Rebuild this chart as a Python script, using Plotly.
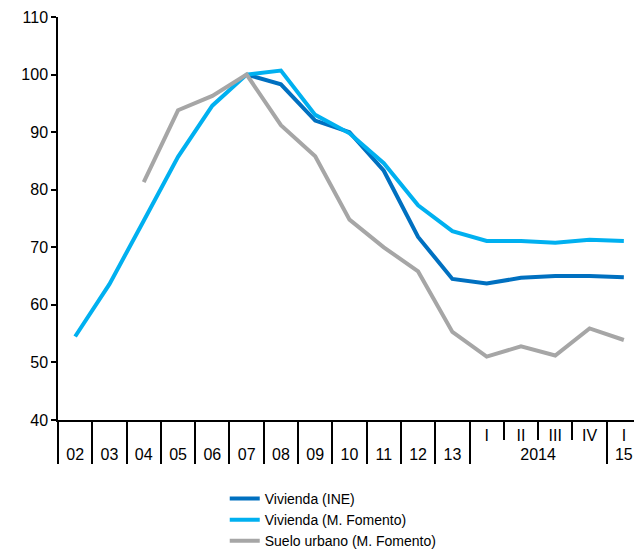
import plotly.graph_objects as go

# category labels: outer (bottom row) and inner (top row)
outer = ["02", "03", "04", "05", "06", "07", "08", "09", "10", "11", "12", "13",
         "2014", "2014", "2014", "2014", "15"]
inner = [" "] * 12 + ["I", "II", "III", "IV", "I"]

vivienda_ine = [None, None, None, None, None, 100, 98.3, 92.0, 90.0, 83.3, 71.8, 64.5,
                63.7, 64.7, 65.0, 65.0, 64.8]
vivienda_fomento = [54.5, 63.6, 74.6, 85.7, 94.6, 100, 100.7, 93.0, 89.8, 84.6, 77.3, 72.8,
                    71.1, 71.1, 70.8, 71.3, 71.1]
suelo_urbano = [None, None, 81.3, 93.8, 96.3, 100, 91.2, 85.8, 74.8, 70.0, 65.8, 55.3,
                51.0, 52.8, 51.2, 55.9, 53.9]

x = [outer, inner]

fig = go.Figure()

fig.add_trace(go.Scatter(x=x, y=vivienda_ine, mode="lines", name="Vivienda (INE)",
                         line=dict(color="#0070C0", width=4)))
fig.add_trace(go.Scatter(x=x, y=vivienda_fomento, mode="lines", name="Vivienda (M. Fomento)",
                         line=dict(color="#00B0F0", width=4)))
fig.add_trace(go.Scatter(x=x, y=suelo_urbano, mode="lines", name="Suelo urbano (M. Fomento)",
                         line=dict(color="#A6A6A6", width=4)))

# the page body keeps an 8px margin, so the figure is shifted by that much
fig.update_layout(
    width=634,
    height=543,
    margin=dict(l=50, r=1, t=9, b=131, autoexpand=False),
    plot_bgcolor="white",
    paper_bgcolor="white",
    font=dict(family="Liberation Sans, Arial", size=14, color="black"),
    showlegend=True,
    legend=dict(x=0.286, y=-0.156, xanchor="left", yanchor="top",
                font=dict(size=14), tracegroupgap=0, bgcolor="rgba(0,0,0,0)"),
    xaxis=dict(
        type="multicategory",
        range=[-0.5, 16.5],
        automargin=False,
        showline=True, linecolor="black", linewidth=1.5,
        ticks="outside", ticklen=18, tickcolor="black", tickwidth=1.5,
        tickson="boundaries",
        showdividers=True, dividercolor="black", dividerwidth=1.5,
        showgrid=False,
        tickfont=dict(size=16),
    ),
    yaxis=dict(
        range=[40, 110], dtick=10,
        automargin=False,
        showline=True, linecolor="black", linewidth=1.5,
        ticks="outside", ticklen=5, tickcolor="black", tickwidth=1.5,
        showgrid=False, zeroline=False,
        tickfont=dict(size=16),
    ),
)

fig.write_html("out.html")
